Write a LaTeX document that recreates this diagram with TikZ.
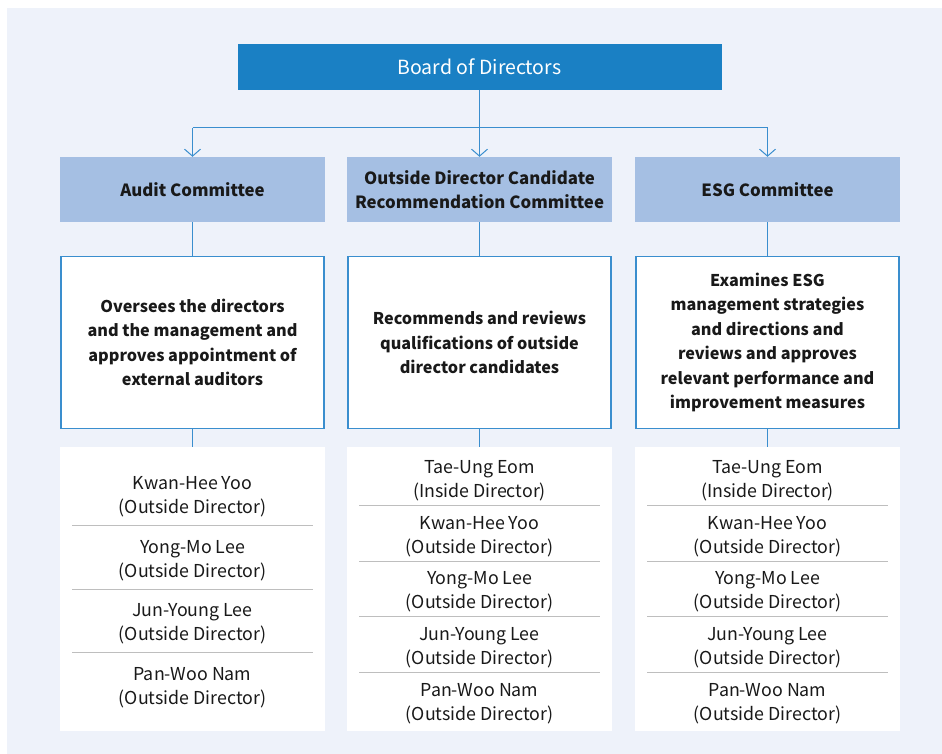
\documentclass[tikz,border=0pt]{standalone}
\usepackage{fontspec}
\setmainfont{Noto Sans CJK KR}
\usepackage{xcolor}
\definecolor{panel}{RGB}{238,242,250}
\definecolor{board}{RGB}{26,128,196}
\definecolor{cmte}{RGB}{165,191,227}
\definecolor{wire}{RGB}{58,142,206}
\definecolor{rule}{RGB}{190,190,190}
\definecolor{ink}{RGB}{25,25,25}
\usetikzlibrary{arrows.meta,positioning}
\tikzset{
  %% Boxes
  boardbox/.style={fill=board, text=white, minimum width=484pt, minimum height=46pt,
                   inner sep=0pt, font=\fontsize{19.5}{24}\selectfont},
  cmtebox/.style={fill=cmte, text=ink, minimum width=265pt, minimum height=65pt,
                  inner sep=0pt, align=center, font=\fontsize{16.8}{24}\selectfont\bfseries},
  dutybox/.style={draw=wire, line width=1.2pt, fill=white, text=ink, minimum width=263pt,
                  minimum height=172pt, inner sep=0pt, align=center,
                  font=\fontsize{16.2}{24.4}\selectfont\bfseries},
  memberbox/.style={fill=white, minimum width=265pt, minimum height=284pt, inner sep=0pt},
  member/.style={text=ink, inner sep=0pt, align=center,
                 font=\fontsize{17.8}{24}\selectfont},
  sep/.style={draw=rule, line width=0.8pt},
  wireline/.style={draw=wire, line width=1pt},
  wirearrow/.style={wireline, -{Straight Barb[length=7pt,width=16pt,line width=1pt]}},
}
\begin{document}
\begin{tikzpicture}[x=1pt,y=-1pt]
\useasboundingbox (0,0) rectangle (942,754);
\fill[panel] (7,8) rectangle (942,754);

%% Board
\node[boardbox] (board) at (479.5,67) {Board of Directors};

%% Committees
\node[cmtebox] (audit) at (192.5,189.5) {Audit Committee};
\node[cmtebox] (odcr)  at (479.5,189.5) {Outside Director Candidate\\Recommendation Committee};
\node[cmtebox] (esg)   at (767.5,189.5) {ESG Committee};

\coordinate (split) at (479.5,128);
\draw[wireline] (board.south) -- (split);
\draw[wireline] (audit.north |- split) -- (esg.north |- split);
\draw[wirearrow] (audit.north |- split) -- (audit.north);
\draw[wirearrow] (split) -- (odcr.north);
\draw[wirearrow] (esg.north |- split) -- (esg.north);

%% Duties
\node[dutybox] (auditduty) at (192.5,342.5) {Oversees the directors\\and the management and\\approves appointment of\\external auditors};
\node[dutybox] (odcrduty)  at (479.5,342.5) {Recommends and reviews\\qualifications of outside\\director candidates};
\node[dutybox] (esgduty)   at (767.5,342.5) {Examines ESG\\management strategies\\and directions and\\reviews and approves\\relevant performance and\\improvement measures};

\foreach \c in {audit,odcr,esg}
  \draw[wireline] (\c.south) -- (\c duty.north);

%% Members
\node[memberbox] (auditmem) at (192.5,589) {};
\node[memberbox] (odcrmem)  at (479.5,589) {};
\node[memberbox] (esgmem)   at (767.5,589) {};

\foreach \c in {audit,odcr,esg}
  \draw[wireline] (\c duty.south) -- (\c mem.north);

%% Audit members
\foreach \who [count=\i] in {Kwan-Hee Yoo,Yong-Mo Lee,Jun-Young Lee,Pan-Woo Nam}
  \node[member] (audit\i) at (192.5,433.25+63.5*\i) {\who\\(Outside Director)};
\foreach \i in {1,2,3}
  \draw[sep] (72,462+63.5*\i) -- (313,462+63.5*\i);

%% Nominating and ESG members
\foreach \c/\cx in {odcr/479.5,esg/767.5}{
  \foreach \who/\role [count=\i] in {Tae-Ung Eom/Inside,Kwan-Hee Yoo/Outside,
      Yong-Mo Lee/Outside,Jun-Young Lee/Outside,Pan-Woo Nam/Outside}
    \node[member] (\c\i) at (\cx,425.4+55.6*\i) {\who\\(\role\ Director)};
  \foreach \i in {1,2,3,4}
    \draw[sep] (\cx-120.5,450+55.6*\i) -- (\cx+120.5,450+55.6*\i);
}
\end{tikzpicture}
\end{document}
